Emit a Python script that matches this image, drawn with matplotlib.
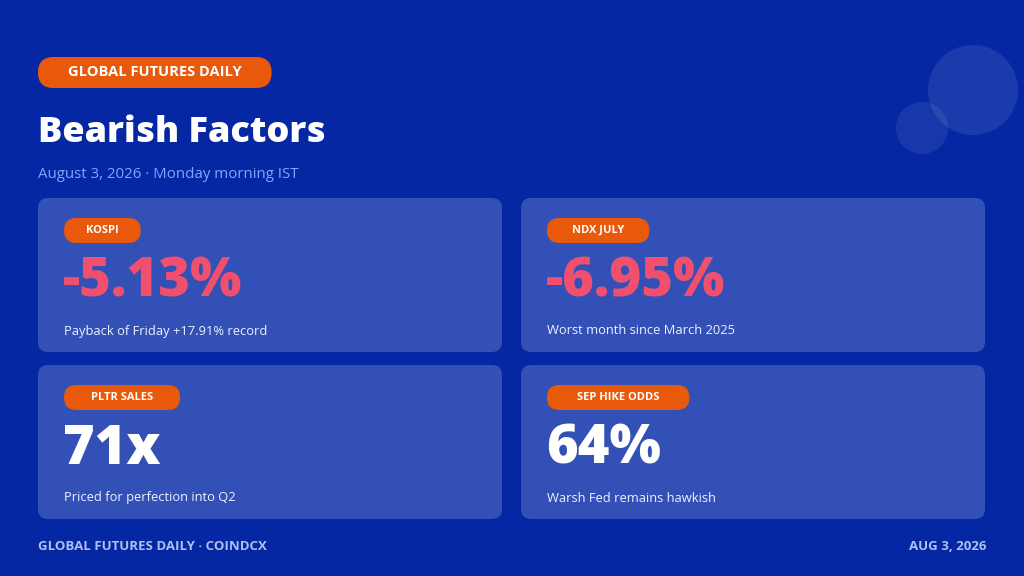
import matplotlib
matplotlib.use("Agg")
import matplotlib.pyplot as plt
from matplotlib.patches import FancyBboxPatch, Circle

plt.rcParams['font.family'] = ['Open Sans', 'DejaVu Sans']

bg = "#0527a3"
card_col = "#3250b5"
orange = "#e8590c"
red = "#f0506e"
light = "#7fa6ff"

tags = ["KOSPI", "NDX JULY", "PLTR SALES", "SEP HIKE ODDS"]
values = ["-5.13%", "-6.95%", "71x", "64%"]
captions = ["Payback of Friday +17.91% record", "Worst month since March 2025",
            "Priced for perfection into Q2", "Warsh Fed remains hawkish"]
bearish = [True, True, False, False]

W, H = 1024, 576
fig = plt.figure(figsize=(W / 100, H / 100), dpi=100)
fig.patch.set_facecolor(bg)
ax = fig.add_axes([0, 0, 1, 1])
ax.set_xlim(0, W)
ax.set_ylim(H, 0)
ax.axis("off")

# decorative circles
ax.add_patch(Circle((973, 90), 45, color="white", alpha=0.09, lw=0))
ax.add_patch(Circle((922, 128), 26, color="white", alpha=0.08, lw=0))

renderer = fig.canvas.get_renderer()


def pill(x, yc, text, size, padx, h, track):
    # track: extra width per letter, the original uses letter spacing
    t = ax.text(0, yc, text, color="white", fontsize=size, fontweight="bold",
                va="center", ha="center", zorder=4)
    tw = t.get_window_extent(renderer).width + track * len(text)
    w = tw + 2 * padx
    t.set_x(x + w / 2)
    ax.add_patch(FancyBboxPatch((x, yc - h / 2), w, h,
                                boxstyle="round,pad=0,rounding_size=%f" % (h / 2),
                                fc=orange, ec="none", zorder=3))


pill(38, 72.5, "GLOBAL FUTURES DAILY", 10.5, 23, 31, 0.7)

ax.text(38, 133, "Bearish Factors", color="white", fontsize=26, fontweight=800,
        va="center", ha="left")
ax.text(38, 175, "August 3, 2026 \u00b7 Monday morning IST", color=light, fontsize=10.8,
        va="center", ha="left")

lefts = [38, 521, 38, 521]
tops = [198, 198, 365, 365]
cw, ch = 464, 154
for i in range(4):
    x0, y0 = lefts[i], tops[i]
    ax.add_patch(FancyBboxPatch((x0, y0), cw, ch,
                                boxstyle="round,pad=0,rounding_size=10",
                                fc=card_col, ec="none", zorder=2))
    pill(x0 + 26, y0 + 32.5, tags[i], 8, 17, 25, 2.0)
    ax.text(x0 + 25, y0 + 84, values[i], color=red if bearish[i] else "white",
            fontsize=39, fontweight=800, va="center", ha="left", zorder=4)
    ax.text(x0 + 26, y0 + 133, captions[i], color="#eef2ff", fontsize=9.3,
            va="center", ha="left", zorder=4)

ax.text(38, 547, "GLOBAL FUTURES DAILY \u00b7 COINDCX", color="#aebff0", fontsize=9.5,
        fontweight="bold", va="center", ha="left")
ax.text(986, 547, "AUG 3, 2026", color="#aebff0", fontsize=9.5, fontweight="bold",
        va="center", ha="right")

fig.savefig("out.png", dpi=100, facecolor=bg)
